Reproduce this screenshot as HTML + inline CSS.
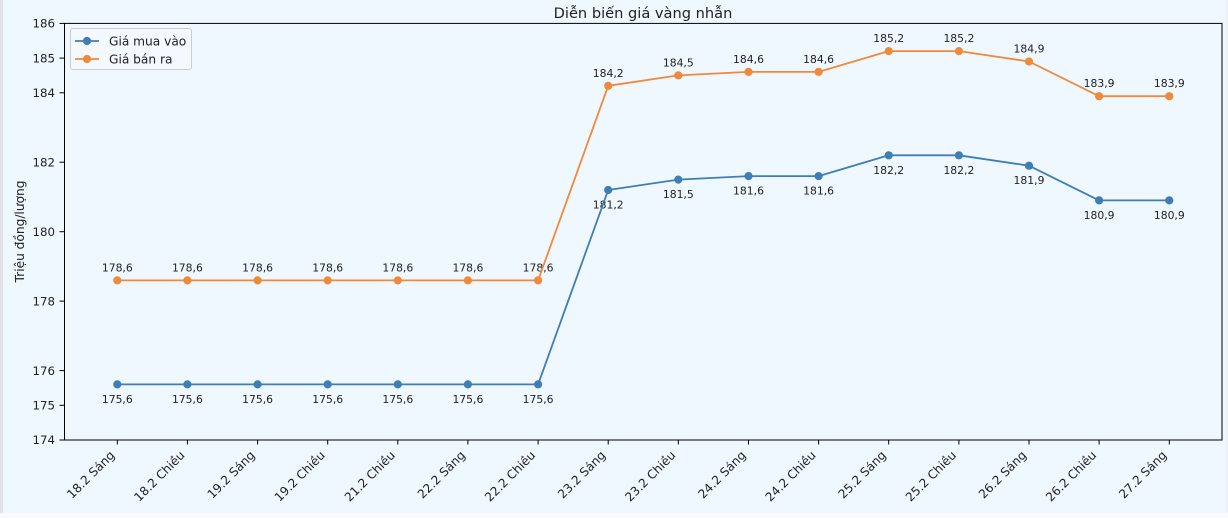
<!DOCTYPE html>
<html>
<head>
<meta charset="utf-8">
<style>
  html,body{margin:0;padding:0;}
  body{width:1228px;height:518px;overflow:hidden;background:#f0f8ff;}
  svg{display:block;}
  text{font-family:"DejaVu Sans","Liberation Sans",sans-serif;fill:#222;}
</style>
</head>
<body>
<svg width="1228" height="518" viewBox="0 0 1228 518" xmlns="http://www.w3.org/2000/svg">
  <rect x="0" y="0" width="1228" height="518" fill="#f0f8ff"/>
  <rect x="0" y="0" width="3" height="518" fill="#e0e3e7"/>
  <rect x="1225" y="0" width="3" height="518" fill="#eef2f6"/>
  <rect x="0" y="513" width="1228" height="5" fill="#f9fafb"/>

  <!-- title -->
  <text x="643" y="18" font-size="14.6" text-anchor="middle">Diễn biến giá vàng nhẫn</text>

  <!-- y axis label -->
  <text transform="translate(24,231.5) rotate(-90)" font-size="12.2" text-anchor="middle">Triệu đồng/lượng</text>

  <!-- y ticks -->
  <g stroke="#000" stroke-width="1">
    <line x1="59.5" y1="440" x2="64" y2="440"/>
    <line x1="59.5" y1="405.3" x2="64" y2="405.3"/>
    <line x1="59.5" y1="370.6" x2="64" y2="370.6"/>
    <line x1="59.5" y1="301.1" x2="64" y2="301.1"/>
    <line x1="59.5" y1="231.7" x2="64" y2="231.7"/>
    <line x1="59.5" y1="162.2" x2="64" y2="162.2"/>
    <line x1="59.5" y1="92.8" x2="64" y2="92.8"/>
    <line x1="59.5" y1="58.1" x2="64" y2="58.1"/>
    <line x1="59.5" y1="23.4" x2="64" y2="23.4"/>
  </g>
  <g font-size="11.8" text-anchor="end">
    <text x="55" y="444.2">174</text>
    <text x="55" y="409.5">175</text>
    <text x="55" y="374.8">176</text>
    <text x="55" y="305.3">178</text>
    <text x="55" y="235.9">180</text>
    <text x="55" y="166.4">182</text>
    <text x="55" y="97">184</text>
    <text x="55" y="62.3">185</text>
    <text x="55" y="27.6">186</text>
  </g>

  <!-- x ticks -->
  <g stroke="#000" stroke-width="1">
    <line x1="117.3" y1="440" x2="117.3" y2="444.5"/>
    <line x1="187.4" y1="440" x2="187.4" y2="444.5"/>
    <line x1="257.6" y1="440" x2="257.6" y2="444.5"/>
    <line x1="327.7" y1="440" x2="327.7" y2="444.5"/>
    <line x1="397.8" y1="440" x2="397.8" y2="444.5"/>
    <line x1="467.9" y1="440" x2="467.9" y2="444.5"/>
    <line x1="538.1" y1="440" x2="538.1" y2="444.5"/>
    <line x1="608.2" y1="440" x2="608.2" y2="444.5"/>
    <line x1="678.3" y1="440" x2="678.3" y2="444.5"/>
    <line x1="748.5" y1="440" x2="748.5" y2="444.5"/>
    <line x1="818.6" y1="440" x2="818.6" y2="444.5"/>
    <line x1="888.7" y1="440" x2="888.7" y2="444.5"/>
    <line x1="958.9" y1="440" x2="958.9" y2="444.5"/>
    <line x1="1029" y1="440" x2="1029" y2="444.5"/>
    <line x1="1099.1" y1="440" x2="1099.1" y2="444.5"/>
    <line x1="1169.3" y1="440" x2="1169.3" y2="444.5"/>
  </g>
  <g font-size="12.1" text-anchor="end">
    <text transform="translate(115.3,456) rotate(-45)">18.2 Sáng</text>
    <text transform="translate(185.4,456) rotate(-45)">18.2 Chiều</text>
    <text transform="translate(255.6,456) rotate(-45)">19.2 Sáng</text>
    <text transform="translate(325.7,456) rotate(-45)">19.2 Chiều</text>
    <text transform="translate(395.8,456) rotate(-45)">21.2 Chiều</text>
    <text transform="translate(465.9,456) rotate(-45)">22.2 Sáng</text>
    <text transform="translate(536.1,456) rotate(-45)">22.2 Chiều</text>
    <text transform="translate(606.2,456) rotate(-45)">23.2 Sáng</text>
    <text transform="translate(676.3,456) rotate(-45)">23.2 Chiều</text>
    <text transform="translate(746.5,456) rotate(-45)">24.2 Sáng</text>
    <text transform="translate(816.6,456) rotate(-45)">24.2 Chiều</text>
    <text transform="translate(886.7,456) rotate(-45)">25.2 Sáng</text>
    <text transform="translate(956.9,456) rotate(-45)">25.2 Chiều</text>
    <text transform="translate(1027,456) rotate(-45)">26.2 Sáng</text>
    <text transform="translate(1097.1,456) rotate(-45)">26.2 Chiều</text>
    <text transform="translate(1167.3,456) rotate(-45)">27.2 Sáng</text>
  </g>

  <!-- data labels (drawn before lines) -->
  <g font-size="10.8" text-anchor="middle">
    <text x="117.3" y="271.4">178,6</text>
    <text x="187.4" y="271.4">178,6</text>
    <text x="257.6" y="271.4">178,6</text>
    <text x="327.7" y="271.4">178,6</text>
    <text x="397.8" y="271.4">178,6</text>
    <text x="467.9" y="271.4">178,6</text>
    <text x="538.1" y="271.4">178,6</text>
    <text x="608.2" y="76.8">184,2</text>
    <text x="678.3" y="66.4">184,5</text>
    <text x="748.5" y="62.9">184,6</text>
    <text x="818.6" y="62.9">184,6</text>
    <text x="888.7" y="42.1">185,2</text>
    <text x="958.9" y="42.1">185,2</text>
    <text x="1029" y="52.5">184,9</text>
    <text x="1099.1" y="87.2">183,9</text>
    <text x="1169.3" y="87.2">183,9</text>
    <text x="117.3" y="403">175,6</text>
    <text x="187.4" y="403">175,6</text>
    <text x="257.6" y="403">175,6</text>
    <text x="327.7" y="403">175,6</text>
    <text x="397.8" y="403">175,6</text>
    <text x="467.9" y="403">175,6</text>
    <text x="538.1" y="403">175,6</text>
    <text x="608.2" y="208.5">181,2</text>
    <text x="678.3" y="198.1">181,5</text>
    <text x="748.5" y="194.6">181,6</text>
    <text x="818.6" y="194.6">181,6</text>
    <text x="888.7" y="173.8">182,2</text>
    <text x="958.9" y="173.8">182,2</text>
    <text x="1029" y="184.2">181,9</text>
    <text x="1099.1" y="218.9">180,9</text>
    <text x="1169.3" y="218.9">180,9</text>
  </g>

  <!-- blue series -->
  <polyline fill="none" stroke="#3f7db5" stroke-width="1.8" stroke-linejoin="round"
    points="117.3,384.4 187.4,384.4 257.6,384.4 327.7,384.4 397.8,384.4 467.9,384.4 538.1,384.4 608.2,190 678.3,179.6 748.5,176.1 818.6,176.1 888.7,155.3 958.9,155.3 1029,165.7 1099.1,200.4 1169.3,200.4"/>
  <g fill="#3f7db5">
    <circle cx="117.3" cy="384.4" r="4.1"/>
    <circle cx="187.4" cy="384.4" r="4.1"/>
    <circle cx="257.6" cy="384.4" r="4.1"/>
    <circle cx="327.7" cy="384.4" r="4.1"/>
    <circle cx="397.8" cy="384.4" r="4.1"/>
    <circle cx="467.9" cy="384.4" r="4.1"/>
    <circle cx="538.1" cy="384.4" r="4.1"/>
    <circle cx="608.2" cy="190" r="4.1"/>
    <circle cx="678.3" cy="179.6" r="4.1"/>
    <circle cx="748.5" cy="176.1" r="4.1"/>
    <circle cx="818.6" cy="176.1" r="4.1"/>
    <circle cx="888.7" cy="155.3" r="4.1"/>
    <circle cx="958.9" cy="155.3" r="4.1"/>
    <circle cx="1029" cy="165.7" r="4.1"/>
    <circle cx="1099.1" cy="200.4" r="4.1"/>
    <circle cx="1169.3" cy="200.4" r="4.1"/>
  </g>

  <!-- orange series -->
  <polyline fill="none" stroke="#f08a3a" stroke-width="1.8" stroke-linejoin="round"
    points="117.3,280.4 187.4,280.4 257.6,280.4 327.7,280.4 397.8,280.4 467.9,280.4 538.1,280.4 608.2,85.8 678.3,75.4 748.5,71.9 818.6,71.9 888.7,51.1 958.9,51.1 1029,61.5 1099.1,96.2 1169.3,96.2"/>
  <g fill="#f08a3a">
    <circle cx="117.3" cy="280.4" r="4.1"/>
    <circle cx="187.4" cy="280.4" r="4.1"/>
    <circle cx="257.6" cy="280.4" r="4.1"/>
    <circle cx="327.7" cy="280.4" r="4.1"/>
    <circle cx="397.8" cy="280.4" r="4.1"/>
    <circle cx="467.9" cy="280.4" r="4.1"/>
    <circle cx="538.1" cy="280.4" r="4.1"/>
    <circle cx="608.2" cy="85.8" r="4.1"/>
    <circle cx="678.3" cy="75.4" r="4.1"/>
    <circle cx="748.5" cy="71.9" r="4.1"/>
    <circle cx="818.6" cy="71.9" r="4.1"/>
    <circle cx="888.7" cy="51.1" r="4.1"/>
    <circle cx="958.9" cy="51.1" r="4.1"/>
    <circle cx="1029" cy="61.5" r="4.1"/>
    <circle cx="1099.1" cy="96.2" r="4.1"/>
    <circle cx="1169.3" cy="96.2" r="4.1"/>
  </g>

  <!-- axes frame -->
  <rect x="64.5" y="23.4" width="1157.5" height="416.6" fill="none" stroke="#000" stroke-width="1"/>

  <!-- legend -->
  <rect x="70.5" y="28.5" width="121" height="41" rx="2.5" ry="2.5" fill="#f4f9ff" stroke="#cccccc" stroke-width="1"/>
  <line x1="75" y1="41" x2="99" y2="41" stroke="#3f7db5" stroke-width="1.8"/>
  <circle cx="87" cy="41" r="4.1" fill="#3f7db5"/>
  <line x1="75" y1="59" x2="99" y2="59" stroke="#f08a3a" stroke-width="1.8"/>
  <circle cx="87" cy="59" r="4.1" fill="#f08a3a"/>
  <text x="109" y="45.3" font-size="12.2">Giá mua vào</text>
  <text x="109" y="63.3" font-size="12.2">Giá bán ra</text>
</svg>
</body>
</html>
